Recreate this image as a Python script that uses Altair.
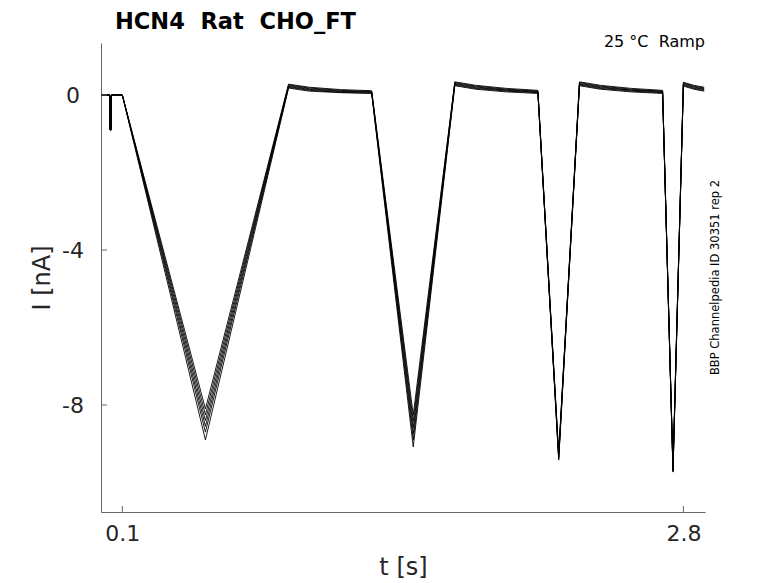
import altair as alt
import pandas as pd

# key time points of the ramp protocol (s)
times = [0.0, 0.040, 0.041, 0.046, 0.047, 0.1, 0.5,
         0.9, 1.0, 1.15, 1.3, 1.5,
         1.7, 1.8, 1.95, 2.1, 2.2,
         2.3, 2.4, 2.55, 2.7, 2.75,
         2.8, 2.85, 2.9]

# current (nA) of each sweep at those times
trace1 = [0, 0, -0.9, -0.9, 0, 0, -8.10, 0.28, 0.20, 0.14, 0.11, -8.26, 0.34, 0.25, 0.17, 0.12, -9.25, 0.34, 0.25, 0.17, 0.12, -9.60, 0.33, 0.25, 0.20]
trace2 = [0, 0, -0.9, -0.9, 0, 0, -8.25, 0.26, 0.18, 0.12, 0.09, -8.42, 0.32, 0.23, 0.15, 0.10, -9.29, 0.32, 0.23, 0.15, 0.10, -9.63, 0.31, 0.23, 0.18]
trace3 = [0, 0, -0.9, -0.9, 0, 0, -8.40, 0.24, 0.16, 0.10, 0.08, -8.58, 0.30, 0.21, 0.13, 0.09, -9.32, 0.30, 0.21, 0.13, 0.09, -9.66, 0.29, 0.21, 0.16]
trace4 = [0, 0, -0.9, -0.9, 0, 0, -8.55, 0.22, 0.14, 0.09, 0.07, -8.74, 0.28, 0.19, 0.12, 0.07, -9.36, 0.28, 0.19, 0.12, 0.07, -9.68, 0.27, 0.19, 0.14]
trace5 = [0, 0, -0.9, -0.9, 0, 0, -8.70, 0.20, 0.12, 0.07, 0.05, -8.90, 0.26, 0.17, 0.10, 0.06, -9.39, 0.26, 0.17, 0.10, 0.06, -9.71, 0.25, 0.17, 0.12]
trace6 = [0, 0, -0.9, -0.9, 0, 0, -8.90, 0.18, 0.10, 0.06, 0.04, -9.08, 0.24, 0.15, 0.08, 0.04, -9.42, 0.24, 0.15, 0.08, 0.04, -9.73, 0.23, 0.15, 0.10]
traces = [trace1, trace2, trace3, trace4, trace5, trace6]

x_ticks = [0.1, 2.8]
y_ticks = [0, -4, -8]

rows = []
for k, tr in enumerate(traces):
    for i, (t, v) in enumerate(zip(times, tr)):
        rows.append({"sweep": k, "i": i, "t": t, "I": v})
df = pd.DataFrame(rows)

W, H = 604, 469
FONT = "DejaVu Sans"

xscale = alt.Scale(domain=[-0.0025, 2.904], nice=False, zero=False)
yscale = alt.Scale(domain=[-10.76, 1.342], nice=False, zero=False)

lines = alt.Chart(df).mark_line(color="black", strokeWidth=0.9).encode(
    x=alt.X("t:Q", scale=xscale,
            axis=alt.Axis(values=x_ticks, title="t [s]", grid=False, ticks=False, tickSize=0,
                          labelPadding=11.5, labelFontSize=22, labelFont=FONT,
                          labelColor="#262626", domainColor="#666666",
                          titleFontSize=24, titleFont=FONT, titleFontWeight="normal",
                          titleColor="#262626", titleX=302, titleY=55,
                          titleBaseline="middle", titleAlign="center")),
    y=alt.Y("I:Q", scale=yscale,
            axis=alt.Axis(values=y_ticks, title="I [nA]", grid=False, ticks=False, tickSize=0,
                          labelExpr="'' + datum.value",
                          labelPadding=28.5, labelAlign="center", labelBaseline="middle",
                          labelFontSize=22, labelFont=FONT, labelColor="#262626",
                          domainColor="#666666",
                          titleFontSize=24, titleFont=FONT, titleFontWeight="normal",
                          titleColor="#262626", titleX=-59, titleY=234.5, titleAngle=270,
                          titleBaseline="middle", titleAlign="center")),
    detail="sweep:N",
    order="i:Q",
)

xt = alt.Chart(pd.DataFrame({"t": x_ticks})).mark_rule(color="#666666", strokeWidth=1).encode(
    x=alt.X("t:Q", scale=xscale), y=alt.value(H), y2=alt.value(H - 6))
yt = alt.Chart(pd.DataFrame({"I": y_ticks})).mark_rule(color="#666666", strokeWidth=1).encode(
    y=alt.Y("I:Q", scale=yscale), x=alt.value(0), x2=alt.value(6))

title = alt.Chart(pd.DataFrame({"s": ["HCN4\u00a0\u00a0Rat\u00a0\u00a0CHO_FT"]})).mark_text(
    align="left", baseline="alphabetic", fontSize=22.5, font=FONT, fontWeight="bold", color="black"
).encode(text="s:N", x=alt.value(14), y=alt.value(-14.5))

cond = alt.Chart(pd.DataFrame({"s": ["25 °C\u00a0\u00a0Ramp"]})).mark_text(
    align="right", baseline="alphabetic", fontSize=16, font=FONT, color="black"
).encode(text="s:N", x=alt.value(W), y=alt.value(3.7))

src = alt.Chart(pd.DataFrame({"s": ["BBP Channelpedia ID 30351 rep 2"]})).mark_text(
    align="center", baseline="middle", fontSize=11.5, font=FONT, color="black", angle=270
).encode(text="s:N", x=alt.value(615), y=alt.value(234.5))

chart = alt.layer(lines, xt, yt, title, cond, src).properties(
    width=W, height=H,
    autosize=alt.AutoSizeParams(type="none"),
    padding={"left": 93, "top": 35, "right": 65, "bottom": 70},
).configure(background="white").configure_view(stroke=None)

chart.save("out.html", embed_options={"renderer": "svg", "actions": False})
